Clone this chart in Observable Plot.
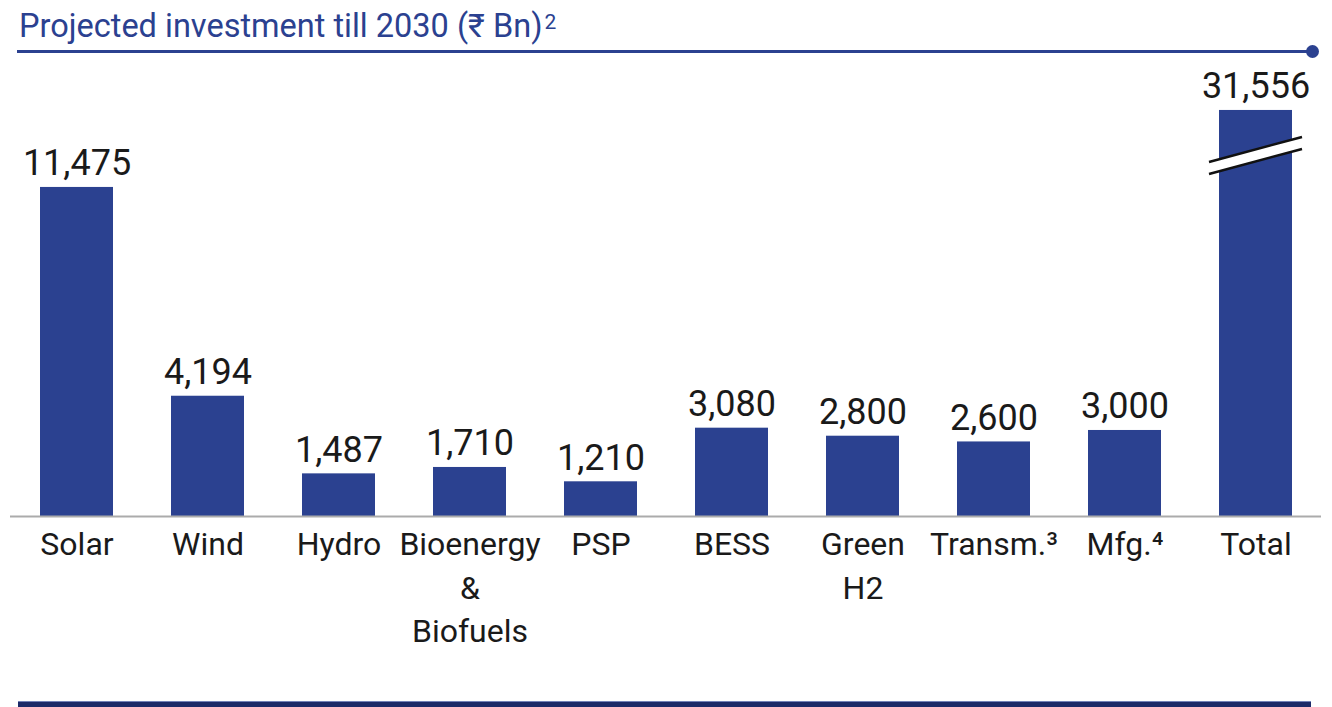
<!DOCTYPE html>
<html><head><meta charset="utf-8">
<script src="https://cdn.jsdelivr.net/npm/d3@7"></script>
<script src="https://cdn.jsdelivr.net/npm/@observablehq/plot@0.6"></script>
<style>
body{margin:0;background:#fff;}
#wrap{position:relative;width:1332px;height:707px;overflow:hidden;font-family:Roboto,"Noto Sans",sans-serif;}
#title{position:absolute;left:19px;top:6px;font-size:32.5px;line-height:40px;color:#2B4190;white-space:nowrap;}
#title sup{font-size:21px;vertical-align:top;position:relative;top:-4px;margin-left:2px;}
#rule{position:absolute;left:17px;top:50px;width:1294px;height:3px;background:#2B4190;}
#dot{position:absolute;left:1306px;top:45px;width:13px;height:13px;border-radius:50%;background:#2B4190;}
#chart{position:absolute;left:0;top:60px;}
#foot{position:absolute;left:18px;top:701px;width:1293px;height:6px;background:#1C2A68;border-top:1px solid #7382b8;}
</style></head>
<body>
<div id="wrap">
  <div id="title">Projected investment till 2030 (₹ Bn)<sup>2</sup></div>
  <div id="rule"></div>
  <div id="dot"></div>
  <div id="chart"></div>
  <div id="foot"></div>
</div>
<script>
const categories = ["Solar","Wind","Hydro","Bioenergy & Biofuels","PSP","BESS","Green H2","Transm.","Mfg.","Total"];
const tickLabels = ["Solar","Wind","Hydro","Bioenergy\n&\nBiofuels","PSP","BESS","Green\nH2","Transm.³","Mfg.⁴","Total"];
const values = [11475,4194,1487,1710,1210,3080,2800,2600,3000,31556];
const brokenCategory = "Total";
const breakCap = 14160; // drawn height of the broken Total bar (axis break)

const data = categories.map((c, i) => ({
  category: c,
  label: tickLabels[i],
  value: values[i],
  shown: Math.min(values[i], breakCap)
}));

const NAVY = "#2B4190";

function breakMark(index, scales, vals, dimensions, context) {
  const sx = scales.x;
  let bw = typeof sx.bandwidth === "function" ? sx.bandwidth() : sx.bandwidth;
  if (bw == null && scales.scales) bw = scales.scales.x.bandwidth;
  const x0 = sx(brokenCategory) - 10;
  const x1 = sx(brokenCategory) + bw + 10;
  const sy = scales.y;
  const lo = [sy(11929), sy(12801)];
  const hi = [sy(12347), sy(13219)];
  const g = d3.create("svg:g");
  g.append("path")
    .attr("d", `M${x0},${hi[0]}L${x1},${hi[1]}L${x1},${lo[1]}L${x0},${lo[0]}Z`)
    .attr("fill", "white");
  g.append("line").attr("x1", x0).attr("y1", hi[0]).attr("x2", x1).attr("y2", hi[1])
    .attr("stroke", "#111").attr("stroke-width", 2.5);
  g.append("line").attr("x1", x0).attr("y1", lo[0]).attr("x2", x1).attr("y2", lo[1])
    .attr("stroke", "#111").attr("stroke-width", 2.5);
  return g.node();
}

const chart = Plot.plot({
  width: 1332,
  height: 600,
  marginTop: 0,
  marginBottom: 144,
  marginLeft: 10,
  marginRight: 11,
  style: {fontFamily: "Roboto, 'Noto Sans', sans-serif", background: "white", overflow: "visible"},
  x: {axis: null, domain: categories, paddingInner: 0.444, paddingOuter: 0.213},
  y: {axis: null, domain: [0, 15902]},
  marks: [
    Plot.barY(data, {x: "category", y: "shown", fill: NAVY}),
    Plot.ruleY([0], {stroke: "#ABABAB", strokeWidth: 2}),
    breakMark,
    Plot.text(data, {x: "category", y: "shown", text: d => d3.format(",")(d.value),
      lineAnchor: "bottom", dy: -12, fontSize: 36, fill: "#1a1a1a"}),
    Plot.text(data, {x: "category", y: 0, text: "label", lineAnchor: "top",
      dy: 8, fontSize: 32, lineHeight: 1.36, fill: "#1a1a1a"})
  ]
});
document.getElementById("chart").appendChild(chart);
</script>
</body></html>
